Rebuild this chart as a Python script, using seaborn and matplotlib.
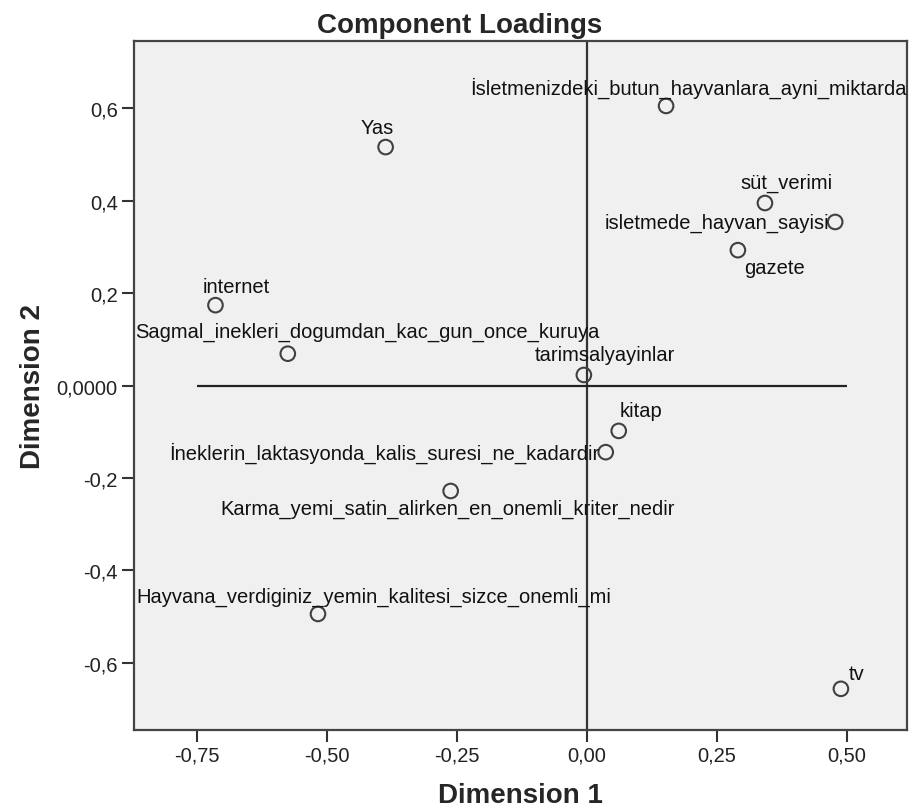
"""
Component loadings plot (SPSS CATPCA style) redrawn with seaborn.
"""

import matplotlib

matplotlib.use("Agg")
import matplotlib.pyplot as plt
import pandas as pd
import seaborn as sns

# variable names and their loadings on the two dimensions
variables = [
    "İsletmenizdeki_butun_hayvanlara_ayni_miktarda",
    "Yas",
    "süt_verimi",
    "isletmede_hayvan_sayisi",
    "gazete",
    "internet",
    "Sagmal_inekleri_dogumdan_kac_gun_once_kuruya",
    "tarimsalyayinlar",
    "kitap",
    "İneklerin_laktasyonda_kalis_suresi_ne_kadardir",
    "Karma_yemi_satin_alirken_en_onemli_kriter_nedir",
    "Hayvana_verdiginiz_yemin_kalitesi_sizce_onemli_mi",
    "tv",
]
dim1 = [0.152, -0.387, 0.342, 0.477, 0.290, -0.714, -0.575, -0.006, 0.061, 0.036, -0.262, -0.517, 0.488]
dim2 = [0.605, 0.516, 0.395, 0.354, 0.293, 0.174, 0.069, 0.023, -0.098, -0.144, -0.228, -0.494, -0.656]

x_ticks = [-0.75, -0.50, -0.25, 0.0, 0.25, 0.50]
x_tick_labels = ["-0,75", "-0,50", "-0,25", "0,00", "0,25", "0,50"]
y_ticks = [-0.6, -0.4, -0.2, 0.0, 0.2, 0.4, 0.6]
y_tick_labels = ["-0,6", "-0,4", "-0,2", "0,0000", "0,2", "0,4", "0,6"]

# label placement: pixel offset from the point and horizontal alignment
label_layout = {
    "İsletmenizdeki_butun_hayvanlara_ayni_miktarda": (22, 19, "center"),
    "Yas": (-8, 20, "center"),
    "süt_verimi": (22, 21, "center"),
    "isletmede_hayvan_sayisi": (-6, 0, "right"),
    "gazete": (37, -17, "center"),
    "internet": (21, 19, "center"),
    "Sagmal_inekleri_dogumdan_kac_gun_once_kuruya": (80, 22, "center"),
    "tarimsalyayinlar": (21, 20, "center"),
    "kitap": (22, 20, "center"),
    "İneklerin_laktasyonda_kalis_suresi_ne_kadardir": (-6, 0, "right"),
    "Karma_yemi_satin_alirken_en_onemli_kriter_nedir": (-3, -17, "center"),
    "Hayvana_verdiginiz_yemin_kalitesi_sizce_onemli_mi": (56, 18, "center"),
    "tv": (16, 15, "center"),
}

df = pd.DataFrame({"variable": variables, "Dimension 1": dim1, "Dimension 2": dim2})

sns.set_style("ticks")
plt.rcParams["font.family"] = ["Liberation Sans", "DejaVu Sans"]

fig = plt.figure(figsize=(9.1, 8.12), dpi=100)
ax = fig.add_axes([0.147, 0.0998, 0.8497, 0.8482])
ax.set_facecolor("#f0f0f0")

# reference lines through the origin
ax.axvline(0, color="#333333", lw=1.6, zorder=1)
ax.hlines(0, -0.75, 0.5, color="#222222", lw=1.6, zorder=1)

sns.scatterplot(
    data=df,
    x="Dimension 1",
    y="Dimension 2",
    marker="o",
    s=110,
    facecolor="none",
    edgecolor="#404040",
    linewidth=1.5,
    ax=ax,
    zorder=3,
)

for name, x, y in zip(variables, dim1, dim2):
    dx, dy, ha = label_layout[name]
    ax.annotate(
        name,
        (x, y),
        xytext=(dx, dy),
        textcoords="offset pixels",
        ha=ha,
        va="center",
        fontsize=14.5,
        color="#111111",
        annotation_clip=False,
    )

ax.set_xlim(-0.871, 0.615)
ax.set_ylim(-0.745, 0.745)
ax.set_xticks(x_ticks)
ax.set_xticklabels(x_tick_labels)
ax.set_yticks(y_ticks)
ax.set_yticklabels(y_tick_labels)
ax.tick_params(axis="both", direction="out", length=8.5, width=1.5, color="#333333",
               labelsize=14.5, labelcolor="#222222", pad=3)

for spine in ax.spines.values():
    spine.set_visible(True)
    spine.set_color("#444444")
    spine.set_linewidth(1.6)

label_font = {"family": ["Liberation Sans", "DejaVu Sans"], "weight": "bold", "size": 20}
ax.set_xlabel("Dimension 1", fontdict=label_font, labelpad=12)
ax.set_ylabel("Dimension 2", fontdict=label_font, labelpad=8)
fig.suptitle("Component Loadings", x=0.505, y=1 - 33 / 812, va="baseline",
             fontsize=20, fontweight="bold", family=["Liberation Sans", "DejaVu Sans"])

fig.savefig("out.png", dpi=100, facecolor="white")
